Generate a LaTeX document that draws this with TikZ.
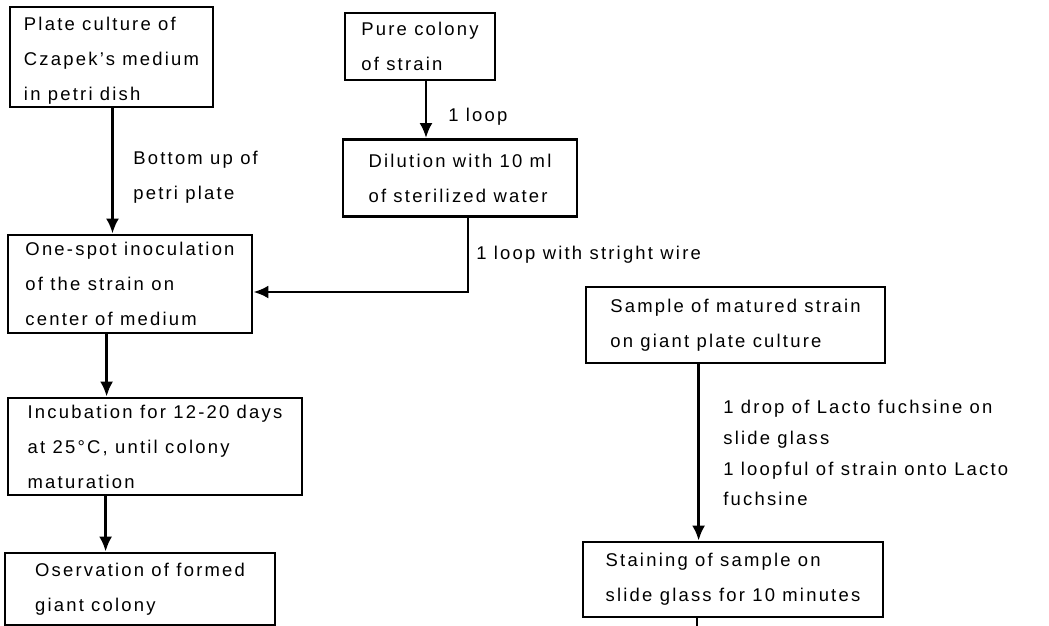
\documentclass[tikz,border=0pt]{standalone}
\usepackage{fontspec}
\setmainfont[LetterSpace=12]{Liberation Sans}
\usetikzlibrary{arrows.meta}

\begin{document}
\begin{tikzpicture}[x=0.02cm, y=-0.02cm,
		box/.style={draw, line width=1.6pt, align=left, inner sep=0pt, font=\fontsize{10.5}{19.9}\selectfont},
		lbl/.style={anchor=west, align=left, inner sep=0pt, font=\fontsize{10.5}{19.9}\selectfont},
		flow/.style={-{Latex[length=3mm,width=2.6mm]}, line width=1.6pt}]
		\useasboundingbox (0,0) rectangle (1049,626);
		\node [box, minimum width=4.06cm, minimum height=2.0cm, text height=1.82cm] (plate) at (111.5,57) {Plate culture of\\Czapek’s medium\\in petri dish};
		\node [box, minimum width=3.0cm, minimum height=1.34cm] (pure) at (420,46.5) {Pure colony\\of strain};
		\node [box, minimum width=4.68cm, minimum height=1.54cm] (dil) at (460,178) {Dilution with 10 ml\\of sterilized water};
		\node [box, minimum width=4.88cm, minimum height=1.96cm] (spot) at (130,284) {One-spot inoculation\\of the strain on\\center of medium};
		\node [box, minimum width=5.88cm, minimum height=1.94cm] (incub) at (155,446.5) {Incubation for 12-20 days\\at 25°C, until colony\\maturation};
		\node [box, minimum width=5.4cm, minimum height=1.44cm] (obs) at (140,589) {Oservation of formed\\giant colony};
		\node [box, minimum width=5.98cm, minimum height=1.52cm] (sample) at (735.5,325) {Sample of matured strain\\on giant plate culture};
		\node [box, minimum width=6.0cm, minimum height=1.5cm] (stain) at (733,579.5) {Staining of sample on\\slide glass for 10 minutes};
		\coordinate (next) at (697,626);

		\draw [flow] ([xshift=0.02cm]plate.south) -- ([xshift=0.02cm]plate.south |- spot.north);
		\node [lbl] (bottomup) at (133,177) {Bottom up of\\petri plate};
		\draw [flow] ([xshift=0.12cm]pure.south) -- ([xshift=0.12cm]pure.south |- dil.north);
		\node [lbl] (oneloop) at (448,117) {1 loop};
		\draw [flow] ([xshift=0.16cm]dil.south) |- ([yshift=-0.16cm]spot.east);
		\node [lbl] (wire) at (476,255) {1 loop with stright wire};
		\draw [flow] ([xshift=2.0cm]spot.south west) -- ([xshift=2.0cm]spot.south west |- incub.north);
		\draw [flow] ([xshift=1.98cm]incub.south west) -- ([xshift=1.98cm]incub.south west |- obs.north);
		\draw [flow] ([xshift=2.28cm]sample.south west) -- ([xshift=2.28cm]sample.south west |- stain.north);
		\node [lbl, font=\fontsize{10.5}{17.6}\selectfont] (lacto) at (723,453) {1 drop of Lacto fuchsine on\\slide glass\\1 loopful of strain onto Lacto\\fuchsine};
		\draw [line width=1.6pt] (stain.south -| next) -- (next);
	\end{tikzpicture}
\end{document}
